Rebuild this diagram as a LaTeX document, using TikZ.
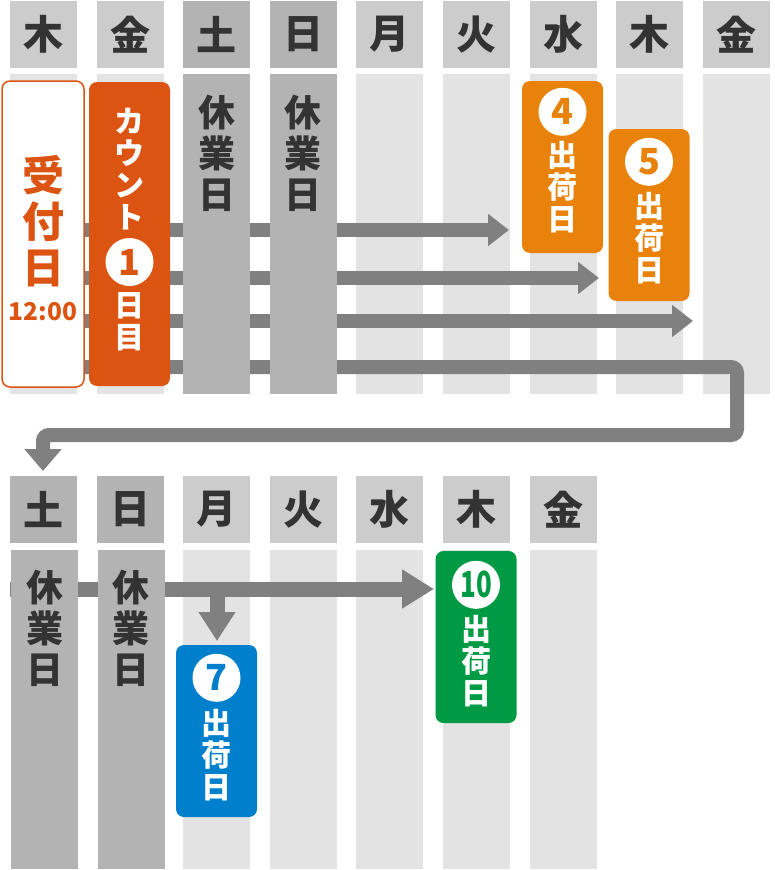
\documentclass[tikz,border=0pt]{standalone}
\usepackage{fontspec}
\setmainfont{Noto Sans CJK JP}
\usetikzlibrary{arrows.meta,positioning}

\definecolor{hdrday}{HTML}{CCCCCC}
\definecolor{hdrend}{HTML}{B3B3B3}
\definecolor{bodyday}{HTML}{E3E3E3}
\definecolor{flowgray}{HTML}{808080}
\definecolor{ink}{HTML}{333333}
\definecolor{rust}{HTML}{DC5412}
\definecolor{amber}{HTML}{E8820A}
\definecolor{shipblue}{HTML}{0080CC}
\definecolor{shipgreen}{HTML}{009A44}

\tikzset{
  dayhead/.style={minimum width=67pt, minimum height=67pt, inner sep=0pt, text=ink, font=\fontsize{40}{40}\selectfont\bfseries},
  daybody/.style={minimum width=67pt, inner sep=0pt},
  vtext/.style={align=center, inner sep=0pt, font=\fontsize{30}{32}\selectfont\bfseries},
  offtext/.style={align=center, inner sep=0pt, text=ink, font=\fontsize{37}{41}\selectfont\bfseries},
  shipbox/.style={rounded corners=8pt, minimum width=81pt, minimum height=172pt, inner sep=0pt},
  numdisc/.style={circle, fill=white, minimum size=48pt, inner sep=0pt, font=\fontsize{36}{36}\selectfont\bfseries},
  flow/.style={draw=flowgray, line width=14pt, -{Triangle[length=21pt,width=31pt]}},
}

\begin{document}
\begin{tikzpicture}[x=1pt, y=-1pt]
\useasboundingbox (0,0) rectangle (774,870);

% weekdays, upper week
\foreach \i/\d in {0/木,1/金,4/月,5/火,6/水,7/木,8/金} {
  \node[dayhead, fill=hdrday] (th\i) at ({43.5+86.6*\i},34.5) {\d};
  \node[daybody, fill=bodyday, minimum height=320pt] (tb\i) at ({43.5+86.6*\i},234) {};
}
% weekdays, lower week
\foreach \i/\d in {2/月,3/火,4/水,5/木,6/金} {
  \node[dayhead, fill=hdrday] (bh\i) at ({43.5+86.6*\i},509.5) {\d};
  \node[daybody, fill=bodyday, minimum height=319pt] (bb\i) at ({43.5+86.6*\i},709.5) {};
}

% arrows
\coordinate (s1) at (80,230);
\coordinate (s2) at (80,278);
\coordinate (s3) at (80,321);
\coordinate (s4) at (80,367);
\coordinate (e1) at (509,230);
\coordinate (e2) at (599,278);
\coordinate (e3) at (693,321);
\coordinate (e4) at (43,471);
\draw[flow] (s1) -- (e1);
\draw[flow] (s2) -- (e2);
\draw[flow] (s3) -- (e3);
\draw[flow, rounded corners=6pt, -{Triangle[length=22pt,width=36pt]}]
  (s4) -- (737,367) -- (737,435) -- (43,435) -- (e4);

\coordinate (s5) at (10,589);
\coordinate (br) at (217,589);
\coordinate (e5) at (434,589);
\coordinate (e6) at (217,641);
\draw[flow, line width=15pt, -{Triangle[length=32pt,width=37pt]}] (s5) -- (e5);
\draw[flow, line width=15pt, -{Triangle[length=29pt,width=35pt]}] (br) -- (e6);

% weekends
\foreach \i/\d in {2/土,3/日} {
  \node[dayhead, fill=hdrend] (th\i) at ({43.5+86.6*\i},34.5) {\d};
  \node[daybody, fill=hdrend, minimum height=320pt] (tb\i) at ({43.5+86.6*\i},234) {};
  \node[offtext] (to\i) at ({43.5+86.6*\i},153) {休\\業\\日};
}
\foreach \i/\d in {0/土,1/日} {
  \node[dayhead, fill=hdrend] (bh\i) at ({43.5+86.6*\i},509.5) {\d};
  \node[daybody, fill=hdrend, minimum height=319pt] (bb\i) at ({44.5+86.6*\i},709.5) {};
  \node[offtext] (bo\i) at ({44.5+86.6*\i},628) {休\\業\\日};
}

% order day and count
\node[shipbox, draw=rust, line width=1.5pt, fill=white, minimum width=82pt, minimum height=306pt] (uk) at (43,234) {};
\node[align=center, inner sep=0pt, text=rust, font=\fontsize{42}{46}\selectfont\bfseries] (ukt) at (43,221) {受\\付\\日};
\node[inner sep=0pt, text=rust, font=\fontsize{24.5}{25}\selectfont\bfseries] (ukh) at (43,312) {12:00};

\node[shipbox, fill=rust, minimum height=304pt] (cnt) at (129.5,234) {};
\node[vtext, text=white] (cntk) at (129.5,169) {カ\\ウ\\ン\\ト};
\node[numdisc, text=rust] (n1) at (129.5,262) {1};
\node[vtext, text=white] (cntd) at (129.5,322) {日\\目};

% shipping days
\node[shipbox, fill=amber] (d4) at (562.5,167) {};
\node[numdisc, text=amber] (n4) at ([yshift=-31pt]d4.north) {4};
\node[vtext, text=white] (t4) at ([yshift=-106pt]d4.north) {出\\荷\\日};

\node[shipbox, fill=amber] (d5) at (649,215) {};
\node[numdisc, text=amber] (n5) at ([yshift=-33pt]d5.north) {5};
\node[vtext, text=white] (t5) at ([yshift=-109pt]d5.north) {出\\荷\\日};

\node[shipbox, fill=shipblue] (d7) at (216.5,731) {};
\node[numdisc, text=shipblue] (n7) at ([yshift=-33pt]d7.north) {7};
\node[vtext, text=white] (t7) at ([yshift=-110pt]d7.north) {出\\荷\\日};

\node[shipbox, fill=shipgreen] (d10) at (476,637) {};
\node[numdisc, text=shipgreen] (n10) at ([yshift=-34pt]d10.north) {\scalebox{0.72}[1]{10}};
\node[vtext, text=white] (t10) at ([yshift=-110pt]d10.north) {出\\荷\\日};
\end{tikzpicture}
\end{document}
